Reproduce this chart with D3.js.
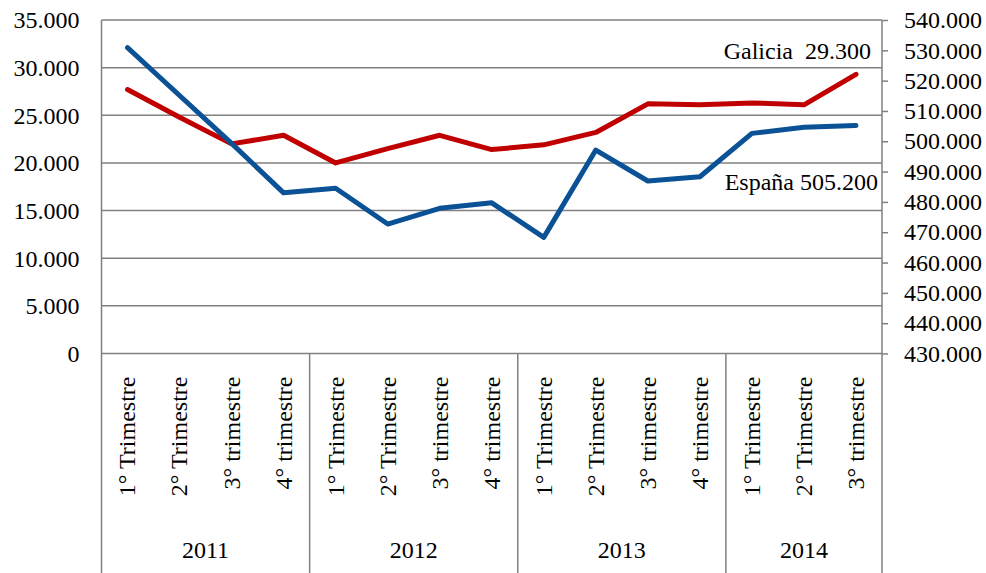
<!DOCTYPE html>
<html>
<head>
<meta charset="utf-8">
<script src="https://cdn.jsdelivr.net/npm/d3@7"></script>
<style>
  body { margin: 0; background: #fff; }
</style>
</head>
<body>
<div id="chart"></div>
<script>
// Data
const years = ["2011", "2012", "2013", "2014"];
const quarters = [
  "1° Trimestre", "2° Trimestre", "3° trimestre", "4° trimestre",
  "1° Trimestre", "2° Trimestre", "3° trimestre", "4° trimestre",
  "1° Trimestre", "2° Trimestre", "3° trimestre", "4° trimestre",
  "1° Trimestre", "2° Trimestre", "3° trimestre"
];
const yearOfQuarter = [0, 0, 0, 0, 1, 1, 1, 1, 2, 2, 2, 2, 3, 3, 3];
const galicia = [27700, 24800, 22000, 22900, 20000, 21500, 22900, 21400, 21900, 23200, 26200, 26100, 26300, 26100, 29300];
const espana = [530900, 515100, 499300, 483000, 484500, 472700, 477900, 479700, 468300, 497100, 486900, 488300, 502600, 504600, 505200];
const leftTicks = [0, 5000, 10000, 15000, 20000, 25000, 30000, 35000];
const rightTicks = [430000, 440000, 450000, 460000, 470000, 480000, 490000, 500000, 510000, 520000, 530000, 540000];

const W = 986, H = 573;
const margin = { top: 20, right: 104, bottom: 219.5, left: 101.5 };
const width = W - margin.left - margin.right,
      height = H - margin.top - margin.bottom;
const fontSize = 24;
const fontFam = "'Liberation Serif'";
const gridColor = "#808080";

const svg = d3.select("#chart").append("svg")
  .attr("width", W).attr("height", H);
const g = svg.append("g")
  .attr("transform", "translate(" + margin.left + "," + margin.top + ")");

const x = d3.scaleBand().domain(d3.range(quarters.length)).range([0, width]);
const yL = d3.scaleLinear().domain([0, 35000]).range([height, 0]);
const yR = d3.scaleLinear().domain([430000, 540000]).range([height, 0]);

const fmt = v => v === 0 ? "0" : d3.format(",")(v).replace(/,/g, ".");

function styleText(sel) {
  sel.style("font-family", fontFam).style("font-size", fontSize + "px").attr("fill", "#000");
}

// horizontal grid lines
g.append("g").selectAll("line").data(leftTicks).join("line")
  .attr("x1", 0).attr("x2", width)
  .attr("y1", d => yL(d)).attr("y2", d => yL(d))
  .attr("stroke", gridColor).attr("stroke-width", 1.5);

// left axis labels
g.append("g").selectAll("text").data(leftTicks).join("text")
  .attr("x", -22).attr("y", d => yL(d))
  .attr("dy", "0.35em").attr("text-anchor", "end")
  .call(styleText)
  .text(fmt);

// right axis with outside ticks
const rAxis = g.append("g").attr("transform", "translate(" + width + ",0)")
  .call(d3.axisRight(yR).tickValues(rightTicks).tickSize(6).tickPadding(16).tickFormat(fmt));
rAxis.attr("font-family", null).attr("font-size", null);
rAxis.select(".domain").remove();
rAxis.selectAll("line").attr("stroke", gridColor).attr("stroke-width", 1.5);
rAxis.selectAll("text").call(styleText);

// vertical frame lines (left, right, year separators), running to the bottom
const sepIdx = [0, 4, 8, 12, 15];
g.append("g").selectAll("line").data(sepIdx).join("line")
  .attr("x1", d => d === 15 ? width : x(d)).attr("x2", d => d === 15 ? width : x(d))
  .attr("y1", d => (d === 0 || d === 15) ? 0 : height)
  .attr("y2", H - margin.top + 2)
  .attr("stroke", gridColor).attr("stroke-width", 1.5);

// category labels (rotated)
g.append("g").selectAll("text").data(quarters).join("text")
  .attr("transform", (d, i) => "translate(" + (x(i) + x.bandwidth() / 2) + "," + (height + 23) + ") rotate(-90)")
  .attr("dy", "0.33em").attr("text-anchor", "end")
  .call(styleText)
  .text(d => d);

// year labels
g.append("g").selectAll("text").data(years).join("text")
  .attr("x", (d, k) => {
    const idx = yearOfQuarter.map((v, i) => v === k ? i : -1).filter(i => i >= 0);
    return (x(idx[0]) + x(idx[idx.length - 1]) + x.bandwidth()) / 2;
  })
  .attr("y", 530).attr("dy", "0.35em").attr("text-anchor", "middle")
  .call(styleText)
  .text(d => d);

// lines
const cx = i => x(i) + x.bandwidth() / 2;
g.append("path").datum(galicia)
  .attr("fill", "none").attr("stroke", "#c00000").attr("stroke-width", 5)
  .attr("stroke-linejoin", "round").attr("stroke-linecap", "round")
  .attr("d", d3.line().x((d, i) => cx(i)).y(d => yL(d)));
g.append("path").datum(espana)
  .attr("fill", "none").attr("stroke", "#0a5196").attr("stroke-width", 5)
  .attr("stroke-linejoin", "round").attr("stroke-linecap", "round")
  .attr("d", d3.line().x((d, i) => cx(i)).y(d => yR(d)));

// end labels
g.append("text")
  .attr("x", width - 11).attr("y", yR(530000)).attr("dy", "0.35em")
  .attr("text-anchor", "end").call(styleText)
  .text("Galicia\u00a0\u00a0" + fmt(galicia[galicia.length - 1]));
g.append("text")
  .attr("x", width - 4).attr("y", yR(490000) + 10).attr("dy", "0.35em")
  .attr("text-anchor", "end").call(styleText)
  .text("España " + fmt(espana[espana.length - 1]));
</script>
</body>
</html>
